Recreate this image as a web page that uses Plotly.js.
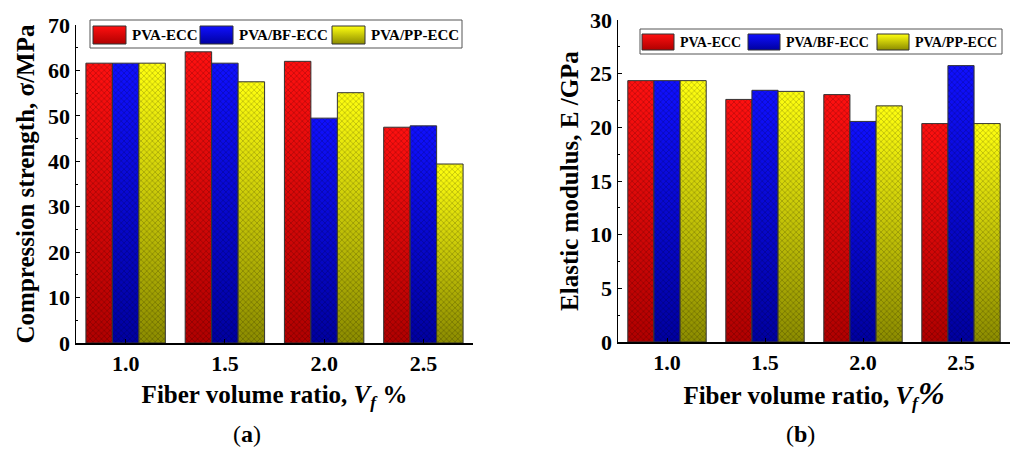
<!DOCTYPE html>
<html>
<head>
<meta charset="utf-8">
<script src="https://cdn.plot.ly/plotly-3.0.1.min.js"></script>
<style>html,body{margin:0;padding:0;background:#fff;}#chart{width:1011px;height:450px;}</style>
</head>
<body>
<div id="chart"></div>
<script>
// ---- data ----
const categories = ["1.0", "1.5", "2.0", "2.5"];
const seriesNames = ["PVA-ECC", "PVA/BF-ECC", "PVA/PP-ECC"];
// (a) compression strength, MPa
const strengthPVA   = [61.6, 64.1, 62.0, 47.5];
const strengthBF    = [61.6, 61.6, 49.5, 47.8];
const strengthPP    = [61.6, 57.5, 55.1, 39.4];
// (b) elastic modulus, GPa
const modulusPVA    = [24.35, 22.6, 23.05, 20.35];
const modulusBF     = [24.35, 23.45, 20.55, 25.75];
const modulusPP     = [24.35, 23.35, 22.0, 20.35];

// ---- styles ----
const fills    = ["#e80000", "#0000e0", "#dada00"];
const gradTop  = ["#ff1010", "#1010ff", "#ffff10"];
const gradBot  = ["#b00000", "#0000a0", "#8c8c00"];
const FONT = "Liberation Serif, Times New Roman, serif";

function barTrace(name, y, i, xa, ya) {
  return {
    type: "bar", name: name, x: categories, y: y,
    xaxis: xa, yaxis: ya, showlegend: false,
    marker: {
      color: fills[i],
      line: {color: "#333", width: 1},
      pattern: {shape: "x", size: 4, solidity: 0.2, fgcolor: "rgba(0,0,0,0.45)", bgcolor: "rgba(0,0,0,0)", fillmode: "replace"}
    },
    hoverinfo: "x+y+name"
  };
}

const data = [
  barTrace(seriesNames[0], strengthPVA, 0, "x", "y"),
  barTrace(seriesNames[1], strengthBF, 1, "x", "y"),
  barTrace(seriesNames[2], strengthPP, 2, "x", "y"),
  barTrace(seriesNames[0], modulusPVA, 0, "x2", "y2"),
  barTrace(seriesNames[1], modulusBF, 1, "x2", "y2"),
  barTrace(seriesNames[2], modulusPP, 2, "x2", "y2")
];

const W = 1011, H = 450;
const px = v => v / W, py = v => 1 - v / H;

const xCommon = {
  type: "category", range: [-0.5, 3.5], showline: true, linecolor: "#000", linewidth: 1.5,
  ticks: "inside", ticklen: 4, tickwidth: 1, tickcolor: "#000",
  tickfont: {family: FONT, size: 22, color: "#000", weight: "bold"},
  showgrid: false, zeroline: false, mirror: false, fixedrange: true
};
const yCommon = {
  showline: true, linecolor: "#000", linewidth: 1.5,
  ticks: "inside", ticklen: 4, tickwidth: 1, tickcolor: "#000",
  minor: {ticks: "inside", ticklen: 2, tickwidth: 1, tickcolor: "#000"},
  tickfont: {family: FONT, size: 22, color: "#000", weight: "bold"},
  showgrid: false, zeroline: false, fixedrange: true
};
const titleFont = {family: FONT, size: 25, color: "#000", weight: "bold"};

const layout = {
  width: W, height: H,
  margin: {l: 0, r: 0, t: 0, b: 0},
  paper_bgcolor: "#fff", plot_bgcolor: "#fff",
  barmode: "group", bargap: 0.2, bargroupgap: 0,
  showlegend: false,
  xaxis: Object.assign({}, xCommon, {
    domain: [px(76), px(473)], anchor: "y",
    title: {text: "Fiber volume ratio, <i>V<sub>f</sub></i> %", font: titleFont, standoff: 10}
  }),
  yaxis: Object.assign({}, yCommon, {
    domain: [py(343), py(25)], anchor: "x", range: [0, 70], dtick: 10,
    minor: Object.assign({}, yCommon.minor, {dtick: 5}),
    title: {text: "Compression strength, σ/MPa", font: titleFont, standoff: 6}
  }),
  xaxis2: Object.assign({}, xCommon, {
    domain: [px(618), px(1010)], anchor: "y2",
    title: {text: "Fiber volume ratio, <i>V<sub>f</sub></i><i><span style='font-size:32px'>%</span></i>", font: titleFont, standoff: 2}
  }),
  yaxis2: Object.assign({}, yCommon, {
    domain: [py(342), py(20)], anchor: "x2", range: [0, 30], dtick: 5,
    minor: Object.assign({}, yCommon.minor, {dtick: 2.5}),
    title: {text: "Elastic modulus, E /GPa", font: titleFont, standoff: 4}
  }),
  shapes: [],
  annotations: [
    {text: "(<b>a</b>)", x: px(247), y: py(434), xref: "paper", yref: "paper", showarrow: false,
     xanchor: "center", yanchor: "middle", font: {family: FONT, size: 24, color: "#000"}},
    {text: "(<b>b</b>)", x: px(800), y: py(434), xref: "paper", yref: "paper", showarrow: false,
     xanchor: "center", yanchor: "middle", font: {family: FONT, size: 24, color: "#000"}}
  ]
};

// custom legends built from the series names
const legends = [
  {box: [90, 20, 462, 48], sw: [93, 200, 332], swW: 33, swY: [26, 44], textX: 4, fs: 15},
  {box: [640, 29, 1002, 54], sw: [642, 748, 877], swW: 32, swY: [34, 50], textX: 4, fs: 14}
];
const swatchSeries = {};
legends.forEach(lg => {
  layout.shapes.push({type: "rect", xref: "paper", yref: "paper",
    x0: px(lg.box[0]), x1: px(lg.box[2]), y0: py(lg.box[3]), y1: py(lg.box[1]),
    line: {color: "#555", width: 1}, fillcolor: "rgba(0,0,0,0)"});
  seriesNames.forEach((nm, i) => {
    swatchSeries[layout.shapes.length] = i;
    layout.shapes.push({type: "rect", xref: "paper", yref: "paper",
      x0: px(lg.sw[i]), x1: px(lg.sw[i] + lg.swW), y0: py(lg.swY[1]), y1: py(lg.swY[0]),
      line: {color: "#333", width: 1}, fillcolor: fills[i]});
    layout.annotations.push({text: "<b>" + nm + "</b>", xref: "paper", yref: "paper",
      x: px(lg.sw[i] + lg.swW + lg.textX), y: py((lg.swY[0] + lg.swY[1]) / 2),
      xanchor: "left", yanchor: "middle", showarrow: false,
      font: {family: FONT, size: lg.fs, color: "#000"}});
  });
});

const gd = document.getElementById("chart");
Plotly.newPlot(gd, data, layout, {displayModeBar: false, staticPlot: true}).then(() => {
  // add vertical shading gradients under the dot-patterned bars
  const NS = "http://www.w3.org/2000/svg";
  const svg = gd.querySelector("svg.main-svg");
  let defs = svg.querySelector("defs");
  if (!defs) { defs = document.createElementNS(NS, "defs"); svg.insertBefore(defs, svg.firstChild); }
  [0, 1, 2].forEach(i => {
    const lg = document.createElementNS(NS, "linearGradient");
    lg.setAttribute("id", "barGrad" + i);
    lg.setAttribute("x1", "0"); lg.setAttribute("y1", "0");
    lg.setAttribute("x2", "0"); lg.setAttribute("y2", "1");
    [[0, gradTop[i]], [1, gradBot[i]]].forEach(([o, c]) => {
      const s = document.createElementNS(NS, "stop");
      s.setAttribute("offset", o); s.setAttribute("stop-color", c);
      lg.appendChild(s);
    });
    defs.appendChild(lg);
  });
  gd.querySelectorAll("g.trace.bars").forEach(g => {
    const cd = g.__data__;
    if (!cd || !cd[0] || !cd[0].trace) return;
    const idx = cd[0].trace.index % 3;
    g.querySelectorAll("g.point path").forEach(p => {
      const c = p.cloneNode(false);
      c.setAttribute("style", "fill:url(#barGrad" + idx + ");stroke:none;");
      p.parentNode.insertBefore(c, p);
    });
  });
  gd.querySelectorAll(".shapelayer path").forEach(p => {
    const k = +p.getAttribute("data-index");
    if (swatchSeries.hasOwnProperty(k)) {
      p.style.fill = "url(#barGrad" + swatchSeries[k] + ")";
      p.style.fillOpacity = "1";
    }
  });
});
</script>
</body>
</html>
